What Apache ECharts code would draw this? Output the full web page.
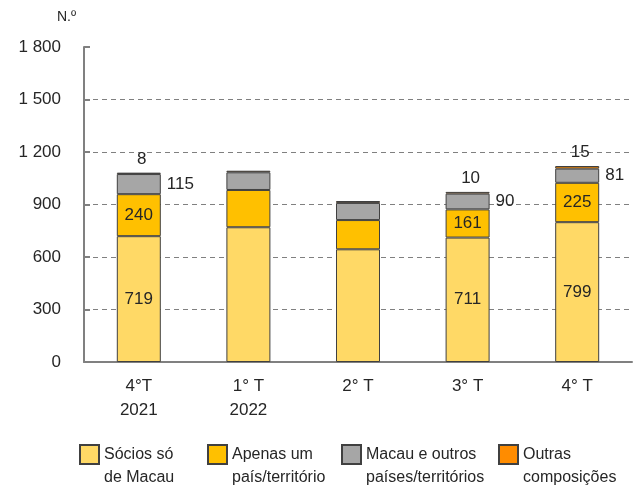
<!DOCTYPE html>
<html>
<head>
<meta charset="utf-8">
<title>Sociedades por composição</title>
<script src="https://cdn.jsdelivr.net/npm/echarts@6/dist/echarts.min.js"></script>
<style>
  html, body { margin: 0; padding: 0; background: #fff; }
  #chart { width: 641px; height: 486px; }
</style>
</head>
<body>
<div id="chart"></div>
<script>
// Data
const quarters = ['4°T\n2021', '1° T\n2022', '2° T', '3° T', '4° T'];
const sociosMacau = [719, 770, 644, 711, 799];
const apenasUm = [240, 213, 167, 161, 225];
const macauOutros = [115, 101, 98, 90, 81];
const outras = [8, 9, 11, 10, 15];
const showValues = [true, false, false, true, true];
const yTicks = [0, 300, 600, 900, 1200, 1500, 1800];

const FONT = '"Liberation Sans", Arial, sans-serif';
const TEXT = '#262626';
const AXIS = '#808080';

function withLabels(values) {
    return values.map(function (v, i) {
        return { value: v, label: { show: showValues[i] } };
    });
}

// one legend per item so each column sits where the original puts it
function legendAt(name, left) {
    return {
        data: [name],
        left: left,
        top: 420,
        padding: 0,
        itemWidth: 19,
        itemHeight: 19,
        itemGap: 0,
        icon: 'rect',
        selectedMode: false,
        // leading blank line pushes the two text lines down next to the square
        formatter: function (n) { return '\n' + n; },
        textStyle: {
            fontFamily: FONT,
            fontSize: 16,
            color: TEXT,
            lineHeight: 23
        }
    };
}

const chart = echarts.init(document.getElementById('chart'));

const option = {
    animation: false,
    textStyle: { fontFamily: FONT },
    grid: { left: 84, right: 9, top: 47, bottom: 124, containLabel: false },
    graphic: [{
        type: 'text',
        left: 57,
        top: 10,
        style: { text: 'N.º', font: '14px ' + FONT, fill: TEXT }
    }],
    legend: [
        legendAt('Sócios só\nde Macau', 79),
        legendAt('Apenas um\npaís/território', 207),
        legendAt('Macau e outros\npaíses/territórios', 341),
        legendAt('Outras\ncomposições', 498)
    ],
    xAxis: {
        type: 'category',
        data: quarters,
        axisLine: { lineStyle: { color: AXIS, width: 2 } },
        axisTick: { inside: true, length: 5, lineStyle: { color: AXIS, width: 2 } },
        axisLabel: { fontSize: 17, color: TEXT, lineHeight: 24, margin: 12 }
    },
    yAxis: {
        type: 'value',
        min: yTicks[0],
        max: yTicks[yTicks.length - 1],
        interval: 300,
        axisLine: { show: true, lineStyle: { color: AXIS, width: 2 } },
        axisTick: { show: true, inside: true, length: 6, lineStyle: { color: AXIS, width: 2 } },
        axisLabel: {
            fontSize: 17,
            color: TEXT,
            margin: 23,
            formatter: function (v) {
                return String(v).replace(/\B(?=(\d{3})+(?!\d))/g, ' ');
            }
        },
        splitLine: {
            show: true,
            lineStyle: {
                color: [AXIS, AXIS, AXIS, AXIS, AXIS, AXIS, 'rgba(0,0,0,0)'],
                type: [5, 4],
                width: 1
            }
        }
    },
    series: [{
        name: 'Sócios só\nde Macau',
        type: 'bar',
        stack: 'total',
        barWidth: 44,
        data: withLabels(sociosMacau),
        itemStyle: { color: '#FFD966', borderColor: '#404040', borderWidth: 1 },
        label: { position: 'inside', fontSize: 17, color: TEXT }
    }, {
        name: 'Apenas um\npaís/território',
        type: 'bar',
        stack: 'total',
        data: withLabels(apenasUm),
        itemStyle: { color: '#FFC000', borderColor: '#404040', borderWidth: 1 },
        label: { position: 'inside', fontSize: 17, color: TEXT }
    }, {
        name: 'Macau e outros\npaíses/territórios',
        type: 'bar',
        stack: 'total',
        data: withLabels(macauOutros),
        itemStyle: { color: '#A6A6A6', borderColor: '#404040', borderWidth: 1 },
        label: { position: 'right', distance: 6, fontSize: 17, color: TEXT }
    }, {
        name: 'Outras\ncomposições',
        type: 'bar',
        stack: 'total',
        data: withLabels(outras),
        itemStyle: { color: '#FF8C00', borderColor: '#404040', borderWidth: 1 },
        label: { position: 'top', distance: 5, offset: [3, 0], fontSize: 17, color: TEXT }
    }]
};

chart.setOption(option);
</script>
</body>
</html>
